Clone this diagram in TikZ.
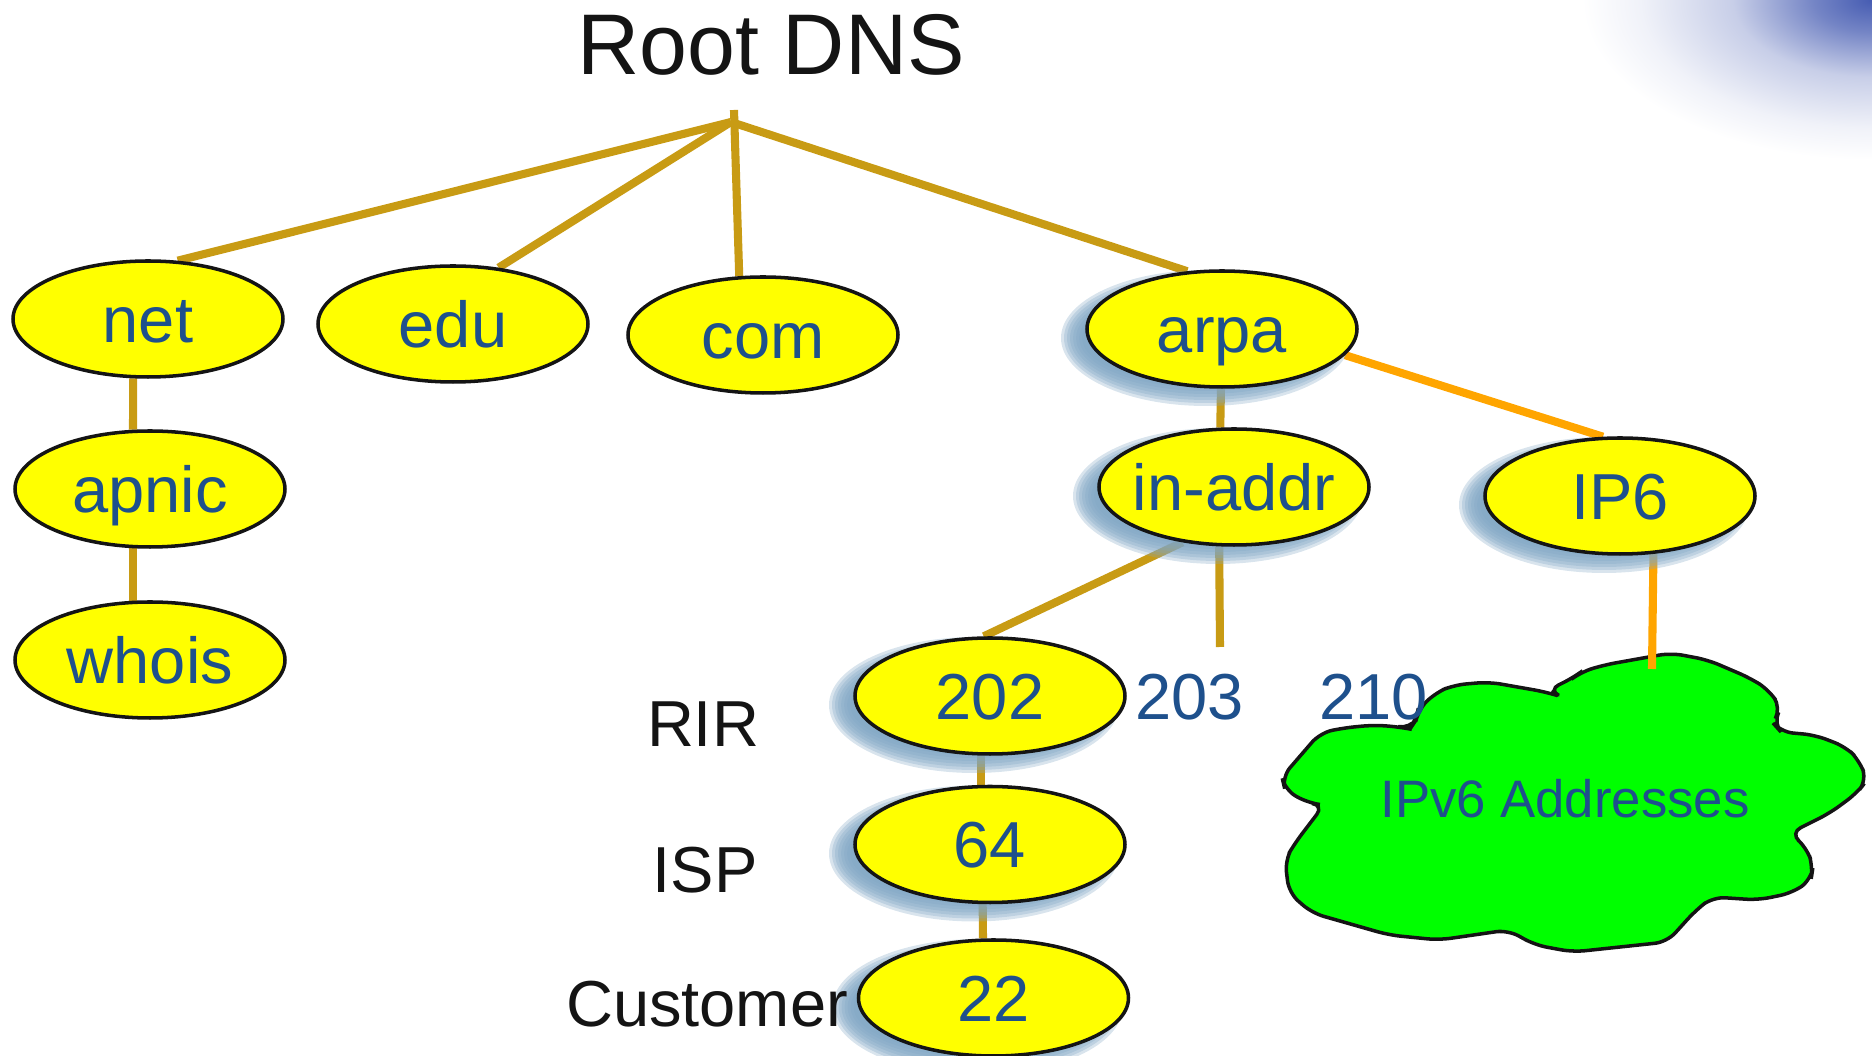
\documentclass[tikz,border=0pt]{standalone}
\usepackage{fontspec}
\setmainfont{Liberation Sans}
\usetikzlibrary{shapes.geometric}
\usetikzlibrary{backgrounds}
\usetikzlibrary{calc}

\definecolor{zonefill}{RGB}{255,255,0}
\definecolor{zonetext}{RGB}{30,80,140}
\definecolor{treeline}{RGB}{200,155,20}
\definecolor{v6line}{RGB}{255,165,0}
\definecolor{cloudgreen}{RGB}{0,255,0}
\definecolor{shadowblue}{RGB}{128,166,196}
\definecolor{cornerblue}{RGB}{70,92,178}
\definecolor{labelblack}{RGB}{20,20,20}

\pgfdeclareradialshading{cornerglow}{\pgfpoint{0bp}{0bp}}{%
  color(0bp)=(cornerblue); color(5bp)=(cornerblue!75); color(12bp)=(cornerblue!30);
  color(20bp)=(cornerblue!8); color(25bp)=(white); color(50bp)=(white)}

\tikzset{
  zone/.style={ellipse, draw=labelblack, line width=1pt, fill=zonefill,
    minimum width=2.7cm, minimum height=1.16cm, inner xsep=-0.3cm, inner ysep=0pt,
    text=zonetext, font=\fontsize{18.5}{20}\selectfont, text height=0.47cm, text depth=0pt},
  zoneshadow/.style={fill=shadowblue, opacity=0.3},
  treeedge/.style={draw=treeline, line width=2.3pt},
  v6edge/.style={draw=v6line, line width=2.3pt},
  tierlabel/.style={text=labelblack, font=\fontsize{18.5}{20}\selectfont, anchor=base},
  octet/.style={text=zonetext, font=\fontsize{18.5}{20}\selectfont, anchor=base},
  cloudedge/.style={draw=labelblack, line width=1pt, fill=cloudgreen, rounded corners=0.12cm},
}

\begin{document}
\begin{tikzpicture}
\useasboundingbox (0,0) rectangle (18.72,10.56);
% top of the tree
\node[tierlabel, font=\fontsize{24.5}{28}\selectfont] (rootdns) at (7.71,9.81) {Root DNS};
\coordinate (root) at (7.31,9.34);
\coordinate (roottop) at (7.34,9.46);
% zones
\node[zone] (net) at (1.48,7.37) {net};
\node[zone] (edu) at (4.53,7.32) {edu};
\node[zone] (com) at (7.63,7.21) {com};
\node[zone] (arpa) at (12.22,7.27) {arpa};
\node[zone] (apnic) at (1.50,5.67) {apnic};
\node[zone] (whois) at (1.50,3.96) {whois};
\node[zone] (inaddr) at (12.34,5.69) {in-addr};
\node[zone] (ip6) at (16.20,5.60) {IP6};
\node[zone] (n202) at (9.90,3.60) {202};
\node[zone] (n64) at (9.90,2.115) {64};
\node[zone] (n22) at (9.935,0.58) {22};
% levels and loose octets
\node[tierlabel] (rir) at (7.03,3.09) {RIR};
\node[tierlabel] (isp) at (7.05,1.63) {ISP};
\node[tierlabel] (customer) at (7.07,0.29) {Customer};
\node[octet] (n203) at (11.895,3.36) {203};
\node[octet] (n210) at (13.735,3.36) {210};
\coordinate (tick203) at (12.20,4.09);
\coordinate (cloudtop) at (16.52,3.87);
\node[octet, font=\fontsize{15}{18}\selectfont] (v6addr) at (15.65,2.38) {IPv6 Addresses};

\begin{scope}[on background layer]
% corner glow
\begin{scope}
\clip (0,0) rectangle (18.72,10.56);
\shade[shading=cornerglow] (18.72,10.56) ellipse (2.9 and 1.6);
\end{scope}
% cloud
\draw[cloudedge] (12.82,2.79) -- (13.20,3.23) -- (13.43,3.28) -- (13.74,3.31) -- (14.00,3.29)
  -- (14.10,3.27) -- (14.16,3.36) -- (14.18,3.46) -- (14.35,3.63) -- (14.54,3.71) -- (14.89,3.74)
  -- (15.46,3.64) -- (15.62,3.59) -- (15.48,3.66) -- (15.73,3.78) -- (15.81,3.84) -- (16.04,3.91)
  -- (16.71,4.03) -- (17.08,3.96) -- (17.50,3.78) -- (17.69,3.66) -- (17.81,3.48) -- (17.73,3.33)
  -- (17.81,3.24) -- (18.15,3.21) -- (18.46,3.09) -- (18.59,2.96) -- (18.67,2.76) -- (18.57,2.63)
  -- (18.30,2.43) -- (17.90,2.23) -- (18.07,2.08) -- (18.13,1.89) -- (18.11,1.76) -- (17.92,1.63)
  -- (17.58,1.56) -- (17.13,1.59) -- (16.96,1.46) -- (16.67,1.14) -- (15.73,1.04) -- (15.35,1.11)
  -- (15.08,1.26) -- (14.39,1.16) -- (13.89,1.21) -- (13.12,1.43) -- (12.89,1.63) -- (12.85,1.96)
  -- (12.95,2.13) -- (13.24,2.51) -- (13.08,2.53) -- (12.85,2.66) -- cycle;
% links
\draw[treeedge] (root) -- (net.63);
\draw[treeedge] (root) -- (edu.51);
\draw[treeedge] (roottop) -- (com.112);
\draw[treeedge] (root) -- (arpa.121);
\draw[treeedge] (net.256) -- (apnic.106);
\draw[treeedge] (apnic.254) -- (whois.106);
\draw[treeedge] (arpa.269) -- (inaddr.103);
\draw[treeedge] (inaddr.227) -- (n202.96);
\draw[treeedge] (inaddr.256) -- (tick203);
\draw[treeedge] (n202.261) -- (n64.99);
\draw[treeedge] (n64.263) -- (n22.100);
\draw[v6edge] (arpa.-12) -- (ip6.106);
\draw[v6edge] (ip6.-60) -- (cloudtop);
% soft shadows under the lower zones
\foreach \zn in {arpa,inaddr,ip6,n202,n64,n22}
  \foreach \k in {0,...,7}
    \fill[zoneshadow] ($(\zn.center)+(-0.16,-0.09)$) ellipse ({1.45-0.03*\k} and {0.68-0.03*\k});
\end{scope}
\end{tikzpicture}
\end{document}
